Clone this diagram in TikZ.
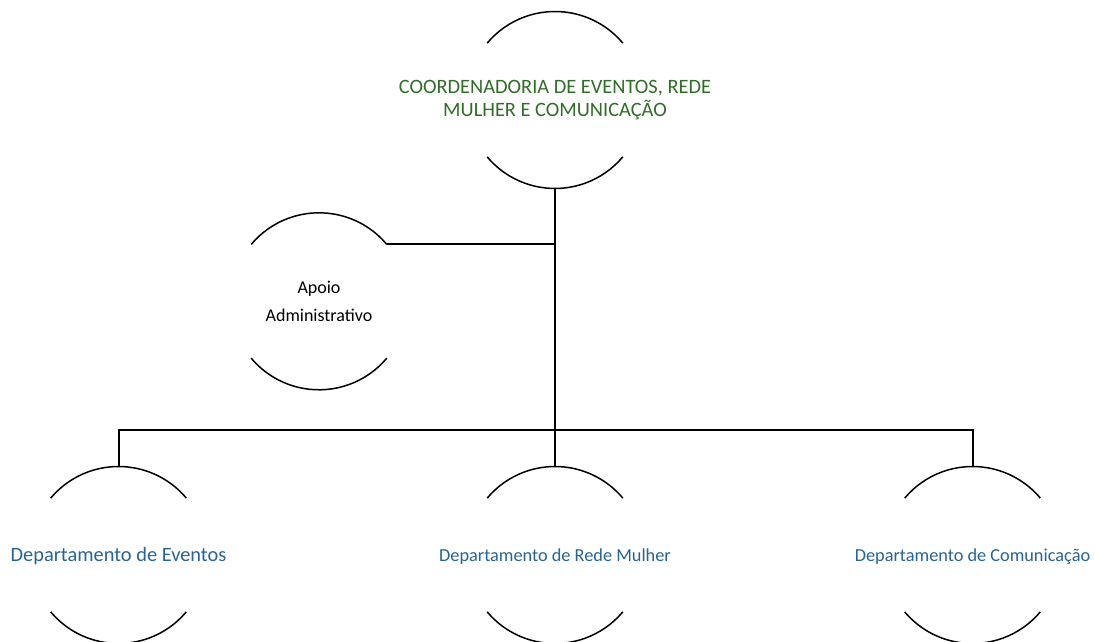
\documentclass[tikz,border=0pt]{standalone}
\usepackage{fontspec}
\setmainfont{Carlito}
\definecolor{coordgreen}{RGB}{47,110,38}
\definecolor{deptblue}{RGB}{38,100,150}
\tikzset{
  unit/.style={circle, minimum size=177pt, inner sep=0pt, outer sep=0pt},
  arcs/.style={line width=1.5pt},
  link/.style={line width=2pt},
}
\newcommand{\unitarcs}[1]{%
  \draw[arcs] (#1.140) arc[start angle=140, end angle=40, radius=88.5pt];
  \draw[arcs] (#1.-40) arc[start angle=-40, end angle=-140, radius=88.5pt];
}
\begin{document}
\begin{tikzpicture}[x=1pt,y=1pt]
\useasboundingbox (0,0) rectangle (1095,642);
\node[unit] (top) at (555,542) {};
\node[unit] (apoio) at (319,340.7) {};
\node[unit] (eventos) at (118.5,87) {};
\node[unit] (rede) at (555,87) {};
\node[unit] (comunicacao) at (972.5,87) {};
\unitarcs{top}
\unitarcs{apoio}
\unitarcs{eventos}
\unitarcs{rede}
\unitarcs{comunicacao}
%
\node[text=coordgreen, align=center, font=\fontsize{20.4}{23}\selectfont] (top-txt) at (top) {COORDENADORIA DE EVENTOS, REDE\\MULHER E COMUNICAÇÃO};
\node[align=center, font=\fontsize{18}{28}\selectfont] (apoio-txt) at (apoio) {Apoio\\Administrativo};
\node[text=deptblue, font=\fontsize{20.4}{24}\selectfont] (eventos-txt) at ([yshift=-1.5]eventos) {Departamento de Eventos};
\node[text=deptblue, font=\fontsize{18.3}{22}\selectfont] (rede-txt) at ([yshift=-1.5]rede) {Departamento de Rede Mulher};
\node[text=deptblue, font=\fontsize{18.3}{22}\selectfont] (comunicacao-txt) at ([yshift=-1.5]comunicacao) {Departamento de Comunicação};
%
\coordinate (bus) at (555,212);
\draw[link] (top.south) -- (rede.north);
\draw[link] (apoio.40) -- (apoio.40 -| top.south);
\draw[link] (eventos.north) -- (eventos.north |- bus) -- (comunicacao.north |- bus) -- (comunicacao.north);
%
\end{tikzpicture}
\end{document}
